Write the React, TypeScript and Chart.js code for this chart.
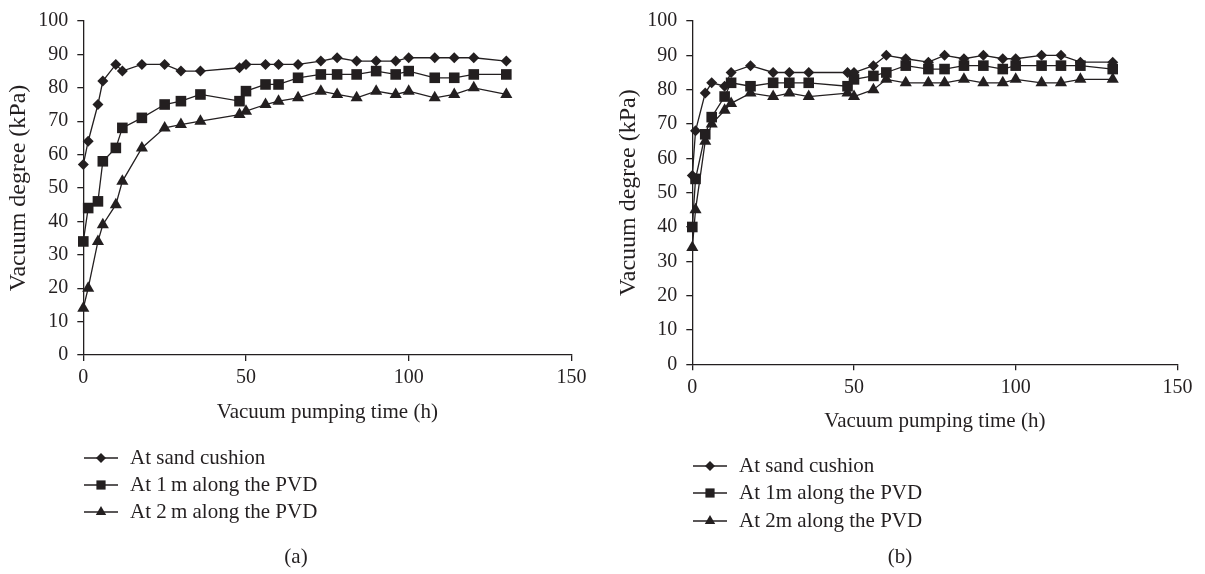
import { useEffect, useRef } from "react";
import { Chart, registerables } from "chart.js";
import { drawPoint } from "chart.js/helpers";

Chart.register(...registerables);

// ---------- data ----------
const xTickValues = [0, 50, 100, 150];
const yTickValues = [0, 10, 20, 30, 40, 50, 60, 70, 80, 90, 100];

const timesA = [0, 1.5, 4.5, 6, 10, 12, 18, 25, 30, 36, 48, 50, 56, 60, 66, 73, 78, 84, 90, 96, 100, 108, 114, 120, 130];
const sandA = [57, 64, 75, 82, 87, 85, 87, 87, 85, 85, 86, 87, 87, 87, 87, 88, 89, 88, 88, 88, 89, 89, 89, 89, 88];
const pvd1A = [34, 44, 46, 58, 62, 68, 71, 75, 76, 78, 76, 79, 81, 81, 83, 84, 84, 84, 85, 84, 85, 83, 83, 84, 84];
const pvd2A = [14, 20, 34, 39, 45, 52, 62, 68, 69, 70, 72, 73, 75, 76, 77, 79, 78, 77, 79, 78, 79, 77, 78, 80, 78];

const timesB = [0, 1, 4, 6, 10, 12, 18, 25, 30, 36, 48, 50, 56, 60, 66, 73, 78, 84, 90, 96, 100, 108, 114, 120, 130];
const sandB = [55, 68, 79, 82, 81, 85, 87, 85, 85, 85, 85, 85, 87, 90, 89, 88, 90, 89, 90, 89, 89, 90, 90, 88, 88];
const pvd1B = [40, 54, 67, 72, 78, 82, 81, 82, 82, 82, 81, 83, 84, 85, 87, 86, 86, 87, 87, 86, 87, 87, 87, 87, 86];
const pvd2B = [34, 45, 65, 70, 74, 76, 79, 78, 79, 78, 79, 78, 80, 83, 82, 82, 82, 83, 82, 82, 83, 82, 82, 83, 83];

const labelsA = ["At sand cushion", "At 1\u2009m along the PVD", "At 2\u2009m along the PVD"];
const labelsB = ["At sand cushion", "At 1m along the PVD", "At 2m along the PVD"];

const xTitle = "Vacuum pumping time (h)";
const yTitle = "Vacuum degree (kPa)";

// ---------- styles ----------
const INK = "#231f20";
const FONT = "'Liberation Serif', 'Times New Roman', serif";
const STYLES = ["rectRot", "rect", "triangle"];
const RADII = [5.5, 7.5, 7];
const LEGEND_RADII = [5, 6.5, 6];

const legendPlugin = {
  id: "sideLegend",
  afterDraw(chart: any, _args: any, opts: any) {
    const ctx = chart.ctx;
    ctx.save();
    chart.data.datasets.forEach((ds: any, i: number) => {
      const y = opts.rows[i];
      ctx.strokeStyle = INK;
      ctx.lineWidth = 1.3;
      ctx.beginPath();
      ctx.moveTo(opts.lineX1, y);
      ctx.lineTo(opts.lineX2, y);
      ctx.stroke();
      ctx.fillStyle = INK;
      drawPoint(ctx, { pointStyle: STYLES[i], radius: LEGEND_RADII[i], rotation: 0, borderWidth: 0 } as any, (opts.lineX1 + opts.lineX2) / 2, y);
      ctx.fillStyle = INK;
      ctx.font = `21px ${FONT}`;
      ctx.textAlign = "left";
      ctx.textBaseline = "middle";
      ctx.fillText(ds.label, opts.textX, y);
    });
    ctx.font = `21px ${FONT}`;
    ctx.textAlign = "center";
    ctx.textBaseline = "middle";
    ctx.fillText(opts.panel, opts.panelX, opts.panelY);
    ctx.restore();
  },
};

function buildConfig(p: any) {
  const series = [p.sand, p.pvd1, p.pvd2];
  return {
    type: "scatter",
    data: {
      datasets: series.map((vals: number[], i: number) => ({
        label: p.labels[i],
        data: vals.map((v, j) => ({ x: p.times[j], y: v })),
        showLine: true,
        borderColor: INK,
        borderWidth: 1.3,
        backgroundColor: INK,
        pointStyle: STYLES[i],
        pointRadius: RADII[i],
        pointBorderWidth: 0,
        pointBackgroundColor: INK,
        pointBorderColor: INK,
        tension: 0,
        clip: false,
      })),
    },
    options: {
      animation: false,
      responsive: false,
      events: [],
      layout: { padding: { left: 0, top: p.top, right: p.right, bottom: p.bottom } },
      plugins: {
        legend: { display: false },
        tooltip: { enabled: false },
        sideLegend: p.legend,
      },
      scales: {
        x: {
          type: "linear",
          min: 0,
          max: 150,
          afterBuildTicks: (s: any) => {
            s.ticks = xTickValues.map((v) => ({ value: v }));
          },
          afterFit: (s: any) => {
            s.height = 70;
          },
          ticks: { font: { family: FONT, size: 20 }, color: INK, padding: 5, maxRotation: 0 },
          grid: { drawOnChartArea: false, drawTicks: true, tickLength: 6, color: INK, lineWidth: 1.3 },
          border: { display: true, color: INK, width: 1.3 },
          title: {
            display: true,
            text: xTitle,
            font: { family: FONT, size: 21 },
            color: INK,
            padding: { top: 0, bottom: 0 },
          },
        },
        y: {
          type: "linear",
          min: 0,
          max: 100,
          afterBuildTicks: (s: any) => {
            s.ticks = yTickValues.map((v) => ({ value: v }));
          },
          afterFit: (s: any) => {
            s.width = p.yWidth;
          },
          ticks: { font: { family: FONT, size: 20 }, color: INK, padding: 9 },
          grid: { drawOnChartArea: false, drawTicks: true, tickLength: 6, color: INK, lineWidth: 1.3 },
          border: { display: true, color: INK, width: 1.3 },
          title: {
            display: true,
            text: yTitle,
            font: { family: FONT, size: 24 },
            color: INK,
            padding: { top: p.yTitlePad, bottom: 0 },
          },
        },
      },
    },
    plugins: [legendPlugin],
  } as any;
}

export default function App() {
  const refA = useRef<HTMLCanvasElement | null>(null);
  const refB = useRef<HTMLCanvasElement | null>(null);

  useEffect(() => {
    const chartA = new Chart(
      refA.current as HTMLCanvasElement,
      buildConfig({
        times: timesA,
        sand: sandA,
        pvd1: pvd1A,
        pvd2: pvd2A,
        labels: labelsA,
        top: 17,
        right: 605 - 571.4,
        bottom: 574 - 355 - 70,
        yWidth: 83.3,
        yTitlePad: 4,
        legend: { rows: [458, 485, 512], lineX1: 84, lineX2: 118, textX: 130, panel: "(a)", panelX: 296, panelY: 557 },
      })
    );
    const chartB = new Chart(
      refB.current as HTMLCanvasElement,
      buildConfig({
        times: timesB,
        sand: sandB,
        pvd1: pvd1B,
        pvd2: pvd2B,
        labels: labelsB,
        top: 17,
        right: 600 - 572.4,
        bottom: 574 - 364.3 - 70,
        yWidth: 87.3,
        yTitlePad: 9,
        legend: { rows: [466, 493, 521], lineX1: 88, lineX2: 122, textX: 134, panel: "(b)", panelX: 295, panelY: 557 },
      })
    );
    return () => {
      chartA.destroy();
      chartB.destroy();
    };
  }, []);

  return (
    <div style={{ position: "fixed", left: 0, top: 0, width: 1205, height: 574, background: "#fff" }}>
      <canvas ref={refA} width={605} height={574} style={{ position: "absolute", left: 0, top: 0, width: 605, height: 574 }} />
      <canvas ref={refB} width={600} height={574} style={{ position: "absolute", left: 605, top: 0, width: 600, height: 574 }} />
    </div>
  );
}
